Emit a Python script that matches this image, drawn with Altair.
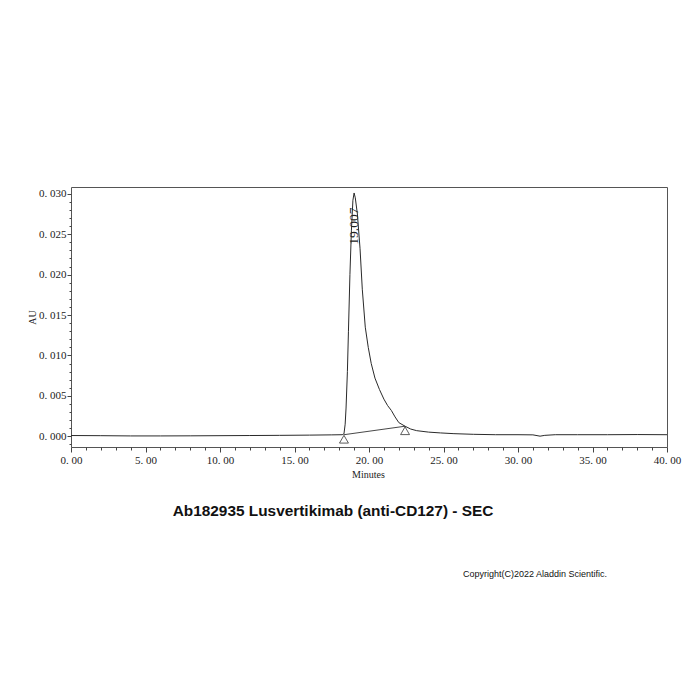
import altair as alt
import pandas as pd

# ---- data ----
time_min = [0.0, 2.0, 4.0, 6.0, 8.0, 10.0, 12.0, 14.0, 16.0, 17.5, 18.2, 18.32,
            18.40, 18.46, 18.55, 18.62, 18.72, 18.82, 18.92, 19.00, 19.08, 19.22,
            19.40, 19.55, 19.75, 19.95, 20.15, 20.40, 20.70, 21.00, 21.25, 21.50,
            21.75, 22.00, 22.42, 22.8, 23.2, 24.0, 24.8, 25.7, 27.0, 28.5, 30.0,
            31.0, 31.48, 31.8, 32.5, 34.0, 36.0, 38.0, 40.0]
absorb_au = [0.0001, 0.00008, 0.00005, 0.00005, 0.00006, 0.00008, 0.0001, 0.00012,
             0.00015, 0.00018, 0.0002, 0.0003,
             0.0015, 0.0035, 0.008, 0.013, 0.020, 0.0255, 0.0292, 0.0301, 0.0295, 0.0275,
             0.0232, 0.0182, 0.0135, 0.0110, 0.0090, 0.0072, 0.0058, 0.0046, 0.0038, 0.0032,
             0.0024, 0.0017, 0.00125, 0.0009, 0.0007, 0.00052, 0.00042, 0.00033, 0.00025,
             0.0002, 0.0002, 0.00018, 0.00002, 0.00012, 0.0002, 0.0002, 0.0002, 0.00022, 0.0002]

baseline_t = [18.32, 22.42]
baseline_v = [0.0002, 0.00125]

peak_rt = [19.0]
peak_label = ["19.007"]
peak_label_y = [0.0283]

x_ticks = list(range(0, 41))
y_ticks = [i / 1000 for i in range(-1, 31)]

title_text = "Ab182935 Lusvertikimab (anti-CD127) - SEC"
copyright_text = "Copyright(C)2022 Aladdin Scientific."

FONT = "Liberation Serif"
SANS = "Liberation Sans"

curve = pd.DataFrame({"t": time_min, "v": absorb_au})
base = pd.DataFrame({"t": baseline_t, "v": baseline_v})
peak = pd.DataFrame({"t": peak_rt, "v": peak_label_y, "label": peak_label})
title_df = pd.DataFrame({"label": [title_text]})
copy_df = pd.DataFrame({"label": [copyright_text]})

x_scale = alt.Scale(domain=[0, 40], nice=False, zero=False)
y_scale = alt.Scale(domain=[-0.00132, 0.03084], nice=False, zero=False)

x_axis = alt.Axis(
    values=x_ticks, tickCount=500,
    labelExpr="datum.value % 5 === 0 ? replace(format(datum.value, '.2f'), '.', '. ') : ''",
    tickSize={"condition": {"test": "datum.value % 5 === 0", "value": 5}, "value": 3},
    tickColor="#444", labelColor="#222", labelFont=FONT, labelFontSize=11,
    labelPadding=2, labelFlush=False, labelOverlap=False,
    domain=False, grid=False,
    title="Minutes", titleFont=FONT, titleFontSize=10, titleFontWeight="normal",
    titleColor="#222", titleX=297, titleY=27, titleBaseline="middle", titleAlign="center",
)
y_axis = alt.Axis(
    values=y_ticks, tickCount=500,
    labelExpr="(abs(datum.value*200 - round(datum.value*200)) < 0.000001 && datum.value > -0.0005) ? replace(format(datum.value, '.3f'), '.', '. ') : ''",
    tickSize={"condition": {"test": "abs(datum.value*200 - round(datum.value*200)) < 0.000001", "value": 4}, "value": 2},
    tickColor="#444", labelColor="#222", labelFont=FONT, labelFontSize=11,
    labelPadding=1, labelOverlap=False, labelFlush=False,
    domain=False, grid=False,
    title="AU", titleFont=FONT, titleFontSize=10, titleFontWeight="normal",
    titleColor="#222", titleX=-39, titleY=130, titleBaseline="middle", titleAlign="center",
)

line = alt.Chart(curve).mark_line(color="#2a2a2a", strokeWidth=1).encode(
    x=alt.X("t:Q", scale=x_scale, axis=x_axis),
    y=alt.Y("v:Q", scale=y_scale, axis=y_axis),
)

bline = alt.Chart(base).mark_line(color="#333", strokeWidth=0.9).encode(
    x=alt.X("t:Q", scale=x_scale), y=alt.Y("v:Q", scale=y_scale)
)

tri = alt.Chart(base).mark_point(
    shape="triangle-up", fill="white", stroke="#333", strokeWidth=0.8,
    size=80, yOffset=4.5, opacity=1, fillOpacity=1,
).encode(x=alt.X("t:Q", scale=x_scale), y=alt.Y("v:Q", scale=y_scale))

ptext = alt.Chart(peak).mark_text(
    angle=270, align="right", baseline="middle", font=FONT, fontSize=13.5, color="#222"
).encode(x=alt.X("t:Q", scale=x_scale), y=alt.Y("v:Q", scale=y_scale), text="label:N")

title = alt.Chart(title_df).mark_text(
    font=SANS, fontSize=15.4, fontWeight="bold", align="center", baseline="middle", color="#111"
).encode(x=alt.value(262), y=alt.value(324), text="label:N")

copy = alt.Chart(copy_df).mark_text(
    font=SANS, fontSize=9, align="right", baseline="middle", color="#111"
).encode(x=alt.value(536), y=alt.value(387), text="label:N")

chart = alt.layer(line, bline, tri, ptext, title, copy).properties(
    width=596, height=260,
    autosize=alt.AutoSizeParams(type="none"),
    padding={"left": 63, "top": 179, "right": 25, "bottom": 245},
    background="white",
).configure_view(stroke="#555", strokeWidth=1)

chart.save("out.html", embed_options={"renderer": "svg", "actions": False})
